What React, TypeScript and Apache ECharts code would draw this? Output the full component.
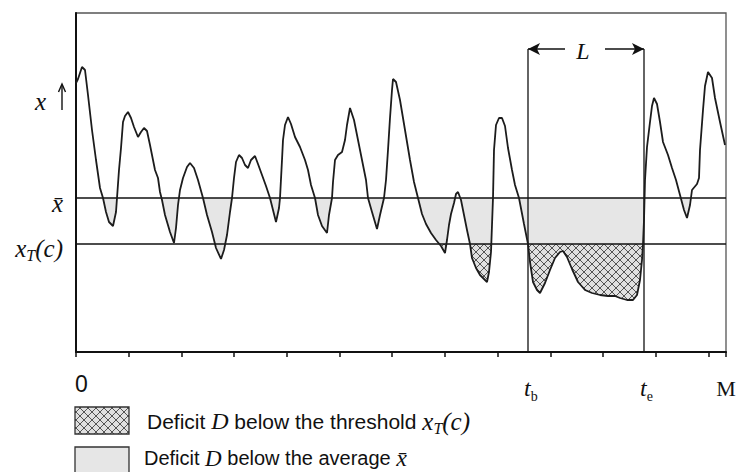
import React, { useEffect, useRef } from "react";
import * as echarts from "echarts";

// time (arbitrary units, 0..M) and series value x(t)
const times = [
  0, 2, 6, 9, 12, 16, 20, 24, 27, 30, 33, 37, 40, 41, 43, 45, 47, 49, 52, 55, 58, 62, 65, 68, 71, 74, 77, 79, 82, 84,
  86, 89, 94, 98, 100, 102, 104, 107, 111, 114, 118, 122, 127, 131, 136, 140, 145, 148, 151, 154, 156, 158, 160, 163,
  166, 169, 172, 175, 179, 182, 186, 190, 194, 197, 200, 203, 204, 206, 207, 209, 212, 215, 219, 224, 229, 232, 235,
  239, 242, 246, 251, 253, 256, 257, 259, 262, 266, 269, 271, 274, 278, 282, 286, 290, 292, 296, 301, 304, 308, 310,
  312, 314, 316, 317, 320, 324, 329, 334, 338, 342, 346, 350, 355, 360, 365, 369, 371, 373, 375, 378, 380, 382, 385,
  388, 391, 394, 396, 400, 404, 408, 411, 413, 415, 417, 418, 420, 423, 426, 429, 432, 436, 439, 443, 448, 452, 454,
  457, 461, 464, 469, 474, 479, 484, 487, 491, 496, 502, 509, 516, 524, 532, 539, 544, 551, 557, 561, 564, 566, 567,
  568, 569, 571, 574, 576, 578, 581, 584, 587, 592, 596, 600, 604, 608, 611, 614, 616, 621, 623, 624, 627, 629, 632,
  636, 639, 644, 649,
];
const values = [
  269, 273, 285, 282, 257, 222, 192, 164, 154, 140, 130, 126, 140, 154, 182, 204, 230, 236, 240, 234, 225, 215, 220,
  224, 221, 207, 192, 182, 174, 160, 152, 137, 120, 109, 124, 147, 162, 174, 185, 189, 184, 172, 154, 137, 120, 104,
  93, 102, 117, 140, 154, 174, 190, 197, 194, 187, 184, 192, 196, 188, 177, 166, 154, 142, 130, 144, 154, 192, 212,
  227, 235, 228, 215, 205, 192, 182, 167, 154, 137, 126, 119, 137, 154, 170, 192, 197, 200, 212, 227, 244, 232, 212,
  192, 172, 154, 140, 123, 137, 154, 172, 202, 234, 262, 273, 270, 252, 222, 192, 170, 154, 138, 128, 119, 112, 106,
  99, 112, 127, 138, 149, 158, 160, 152, 137, 122, 108, 94, 84, 77, 73, 70, 80, 100, 154, 202, 227, 234, 234, 226,
  204, 182, 167, 154, 128, 108, 90, 70, 62, 59, 69, 82, 94, 100, 101, 95, 83, 70, 62, 59, 57, 56, 56, 54, 52, 52, 57,
  72, 92, 108, 132, 172, 205, 230, 246, 254, 248, 230, 210, 197, 184, 172, 157, 142, 134, 147, 162, 168, 174, 202,
  242, 266, 280, 274, 254, 230, 207,
];

const MEAN = 154; // x-bar
const THRESHOLD = 108; // x_T(c)
const T_B = 452;
const T_E = 568;
const T_MAX = 650; // M
const V_MAX = 339;
const TICK_INTERVAL = 52.7;
const L_LEVEL = 303;
const L_ARROW_LEFT = [489, 452];
const L_ARROW_RIGHT = [529, 568];
const L_LABEL_T = 507;
const HATCH_FROM = 350;
const X_ARROW_LABEL_V = 251;

function clipBelow(level: number, from: number) {
  const out: number[][] = [];
  for (let i = 0; i < times.length; i++) {
    const t = times[i];
    const v = values[i];
    if (i > 0) {
      const t0 = times[i - 1];
      const v0 = values[i - 1];
      if ((v0 - level) * (v - level) < 0) {
        const tc = t0 + ((level - v0) * (t - t0)) / (v - v0);
        out.push([tc, level]);
      }
    }
    out.push([t, t >= from ? Math.min(v, level) : level]);
  }
  return out;
}

function makeHatch() {
  const c = document.createElement("canvas");
  c.width = 8;
  c.height = 8;
  const g = c.getContext("2d")!;
  g.fillStyle = "#e0e0e0";
  g.fillRect(0, 0, 8, 8);
  g.strokeStyle = "#444";
  g.lineWidth = 0.9;
  g.beginPath();
  g.moveTo(-1, -1);
  g.lineTo(9, 9);
  g.moveTo(9, -1);
  g.lineTo(-1, 9);
  g.stroke();
  return c;
}

const SERIF = '"Liberation Serif", "Times New Roman", serif';
const SANS = '"Liberation Sans", Arial, sans-serif';
const INK = "#111";

export default function App() {
  const ref = useRef<HTMLDivElement>(null);
  useEffect(() => {
    if (!ref.current) return;
    const chart = echarts.init(ref.current, undefined, { renderer: "svg" });
    const hatch = { image: makeHatch(), repeat: "repeat" } as any;
    const hline = (level: number) => ({
      type: "line",
      data: [
        [0, level],
        [T_MAX, level],
      ],
      symbol: "none",
      lineStyle: { color: INK, width: 1.4 },
      z: 3,
      silent: true,
    });
    const vline = (t: number) => ({
      type: "line",
      data: [
        [t, 0],
        [t, L_LEVEL],
      ],
      symbol: "none",
      lineStyle: { color: INK, width: 1.3 },
      z: 3,
      silent: true,
    });
    chart.setOption({
      animation: false,
      grid: {
        left: 76,
        top: 13,
        width: 650,
        height: 339,
        show: true,
        borderColor: "#555",
        borderWidth: 1.3,
      },
      xAxis: {
        type: "value",
        min: 0,
        max: T_MAX,
        interval: TICK_INTERVAL,
        axisLine: { lineStyle: { color: INK, width: 2 } },
        axisTick: { show: true, length: 5, lineStyle: { color: INK, width: 1.5 } },
        axisLabel: { show: false },
        splitLine: { show: false },
      },
      yAxis: {
        type: "value",
        min: 0,
        max: V_MAX,
        axisLine: { show: true, lineStyle: { color: INK, width: 2 } },
        axisTick: { show: false },
        axisLabel: { show: false },
        splitLine: { show: false },
      },
      series: [
        {
          type: "line",
          data: clipBelow(MEAN, 0),
          symbol: "none",
          lineStyle: { width: 0, opacity: 0 },
          areaStyle: { color: "#e6e6e6", opacity: 1, origin: MEAN },
          z: 1,
          silent: true,
        },
        {
          type: "line",
          data: clipBelow(THRESHOLD, HATCH_FROM),
          symbol: "none",
          lineStyle: { width: 0, opacity: 0 },
          areaStyle: { color: hatch, opacity: 1, origin: THRESHOLD },
          z: 2,
          silent: true,
        },
        hline(MEAN),
        hline(THRESHOLD),
        vline(T_B),
        vline(T_E),
        {
          type: "line",
          data: times.map((t, i) => [t, values[i]]),
          symbol: "none",
          lineStyle: { color: "#1c1c1c", width: 1.8 },
          z: 4,
          silent: true,
          markLine: {
            silent: true,
            symbol: ["none", "arrow"],
            symbolSize: [9, 12],
            label: { show: false },
            lineStyle: { color: INK, width: 1.5, type: "solid" },
            data: [
              [{ coord: [L_ARROW_LEFT[0], L_LEVEL] }, { coord: [L_ARROW_LEFT[1], L_LEVEL] }],
              [{ coord: [L_ARROW_RIGHT[0], L_LEVEL] }, { coord: [L_ARROW_RIGHT[1], L_LEVEL] }],
            ],
          },
        },
      ],
    });

    const p = (t: number, v: number) => chart.convertToPixel({ gridIndex: 0 }, [t, v]) as number[];
    const meanY = p(0, MEAN)[1];
    const thrY = p(0, THRESHOLD)[1];
    const axisY = p(0, 0)[1];
    const x0 = p(0, 0)[0];
    const xb = p(T_B, 0)[0];
    const xe = p(T_E, 0)[0];
    const xm = p(T_MAX, 0)[0];
    const lPos = p(L_LABEL_T, L_LEVEL);
    const xArrowY = p(0, X_ARROW_LABEL_V)[1];

    const mathRich = {
      m: { fontFamily: SERIF, fontStyle: "italic", fontSize: 25, fill: INK, lineHeight: 30 },
      sub: { fontFamily: SERIF, fontStyle: "italic", fontSize: 16, fill: INK, lineHeight: 16, verticalAlign: "bottom" },
      s: { fontFamily: SANS, fontSize: 21, fill: INK, lineHeight: 30 },
      d: { fontFamily: SERIF, fontStyle: "italic", fontSize: 24, fill: INK, lineHeight: 30 },
      up: { fontFamily: SERIF, fontSize: 14, fill: INK, lineHeight: 14, verticalAlign: "bottom" },
      s2: { fontFamily: SANS, fontSize: 20, fill: INK, lineHeight: 18 },
      d2: { fontFamily: SERIF, fontStyle: "italic", fontSize: 23, fill: INK, lineHeight: 18 },
      m2: { fontFamily: SERIF, fontStyle: "italic", fontSize: 24, fill: INK, lineHeight: 18 },
    };

    const txt = (x: number, y: number, text: string, align: string, extra: any = {}) => ({
      type: "text",
      x,
      y,
      silent: true,
      style: { text, align, verticalAlign: "middle", rich: mathRich, fill: INK, ...extra },
    });

    chart.setOption({
      graphic: [
        // y-axis labels
        txt(46, xArrowY, "{m|x}", "right"),
        {
          type: "line",
          silent: true,
          shape: { x1: 62, y1: xArrowY + 9, x2: 62, y2: xArrowY - 16 },
          style: { stroke: INK, lineWidth: 1.4 },
        },
        {
          type: "polyline",
          silent: true,
          shape: { points: [[58.5, xArrowY - 9], [62, xArrowY - 17], [65.5, xArrowY - 9]] },
          style: { stroke: INK, lineWidth: 1.4, fill: "none" },
        },
        txt(63, meanY + 5, "{m|x\u0304}", "right"),
        txt(63, thrY + 4, "{m|x}{sub|T}{m|(c)}", "right"),
        // x-axis labels
        txt(x0 - 1, axisY + 32, "0", "left", { font: `23px ${SANS}` }),
        txt(xb - 4, axisY + 36, "{d|t}{up|b}", "left"),
        txt(xe - 4, axisY + 36, "{d|t}{up|e}", "left"),
        txt(xm, axisY + 36, "M", "center", { font: `22px ${SERIF}` }),
        // L label
        txt(lPos[0], lPos[1] + 2, "{d|L}", "center"),
        // legend
        {
          type: "rect",
          silent: true,
          shape: { x: 75, y: 407, width: 54, height: 27 },
          style: { fill: hatch, stroke: "#333", lineWidth: 1.3 },
        },
        txt(147, 421, "{s|Deficit }{d|D}{s| below the threshold }{m|x}{sub|T}{m|(c)}", "left"),
        {
          type: "rect",
          silent: true,
          shape: { x: 75, y: 447, width: 54, height: 30 },
          style: { fill: "#e6e6e6", stroke: "#333", lineWidth: 1.3 },
        },
        txt(144, 458, "{s2|Deficit }{d2|D}{s2| below the average }{m2|x\u0304}", "left"),
      ],
    });
    return () => chart.dispose();
  }, []);
  return (
    <div
      ref={ref}
      style={{ position: "fixed", left: 0, top: 0, width: 739, height: 472, background: "#fff" }}
    />
  );
}
